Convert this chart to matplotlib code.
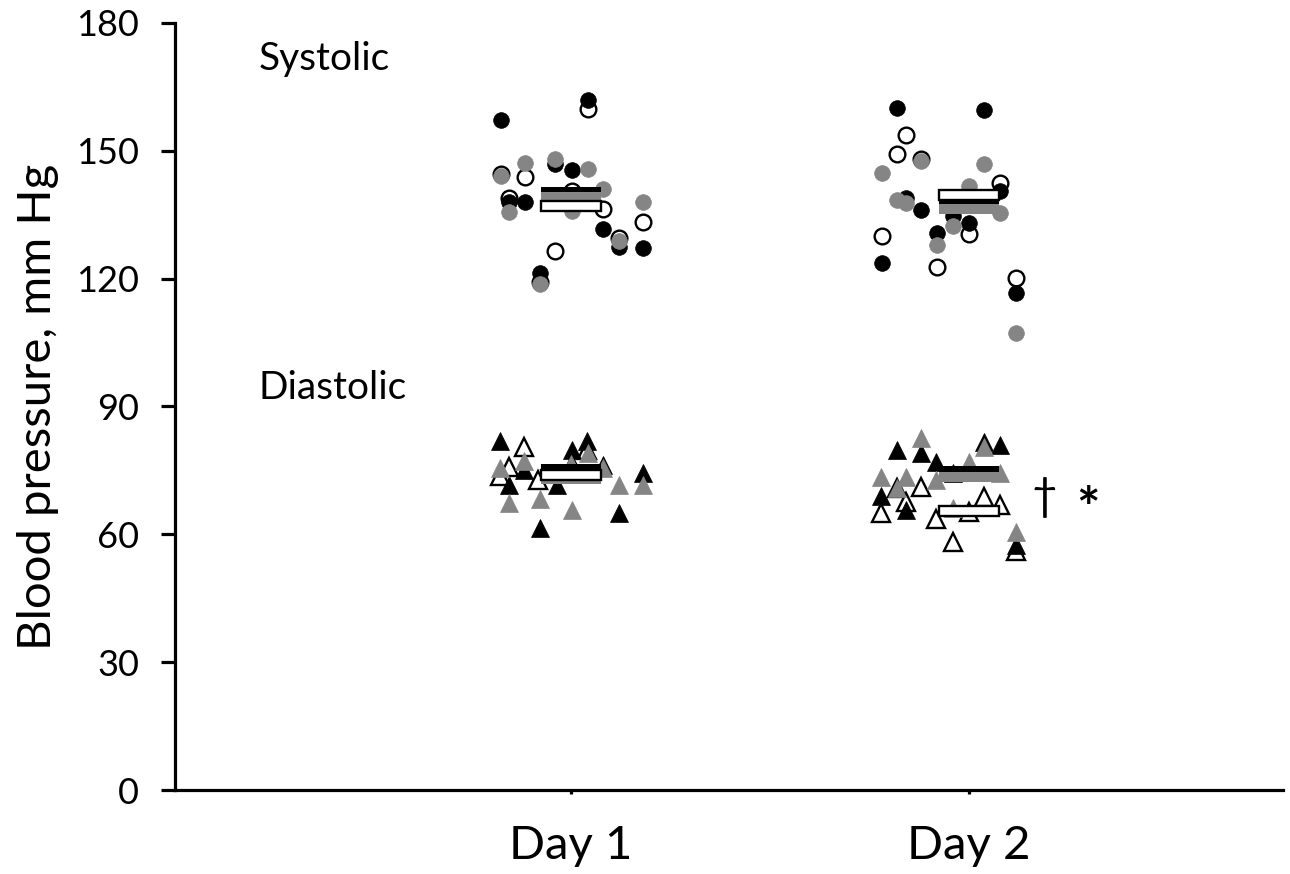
import matplotlib
matplotlib.use("Agg")
import matplotlib.pyplot as plt
import numpy as np

plt.rcParams['font.family'] = ['Lato', 'DejaVu Sans']

# %%
# values: (jitter offset, mm Hg) per subject group
days = ['Day 1', 'Day 2']
gray = '#858585'

# Day 1 systolic
sys1_black_dx = [-0.176, 0.043, -0.040, 0.003, -0.156, -0.116, 0.081, 0.120, 0.180, -0.077]
sys1_black = [157.3, 162.0, 147.0, 145.5, 138.0, 138.0, 131.7, 127.5, 127.3, 121.4]
sys1_gray_dx = [-0.116, -0.176, -0.040, 0.043, 0.081, -0.156, 0.003, 0.180, 0.120, -0.077]
sys1_gray = [147.2, 144.1, 148.1, 145.8, 141.1, 135.7, 135.9, 138.0, 128.9, 118.8]
sys1_open_dx = [0.043, -0.176, -0.116, 0.003, -0.156, 0.081, 0.180, -0.040, -0.077, 0.120]
sys1_open = [159.8, 144.6, 143.9, 140.6, 139.0, 136.4, 133.3, 126.6, 119.3, 129.5]

# Day 2 systolic
sys2_black_dx = [-0.181, 0.038, 0.078, -0.159, -0.121, 0.000, -0.040, -0.081, -0.219, 0.118]
sys2_black = [160.1, 159.6, 140.6, 139.0, 136.2, 133.1, 134.8, 130.8, 123.7, 116.7]
sys2_gray_dx = [-0.121, -0.219, 0.038, 0.000, -0.181, -0.159, 0.078, -0.040, -0.081, 0.118]
sys2_gray = [147.6, 144.9, 147.0, 141.8, 138.5, 137.8, 135.5, 132.4, 128.0, 107.3]
sys2_open_dx = [-0.159, -0.181, -0.121, 0.078, 0.000, -0.219, -0.081, 0.118]
sys2_open = [153.7, 149.3, 148.0, 142.5, 130.5, 130.1, 122.8, 120.2]

# Day 1 diastolic
dia1_black_dx = [-0.179, -0.118, 0.003, 0.040, -0.156, 0.081, 0.180, 0.120, -0.078, -0.035]
dia1_black = [82.0, 75.0, 79.7, 82.0, 71.5, 76.2, 74.3, 65.0, 61.4, 71.5]
dia1_gray_dx = [-0.118, 0.120, 0.180, -0.156, -0.078, 0.003, 0.043, 0.081, -0.179, 0.000]
dia1_gray = [77.3, 71.5, 71.5, 67.3, 68.4, 65.6, 79.0, 75.5, 75.5, 76.5]
dia1_open_dx = [-0.118, 0.040, -0.156, -0.179, -0.083, 0.003]
dia1_open = [80.4, 79.7, 75.7, 73.8, 72.7, 76.2]

# Day 2 diastolic
dia2_black_dx = [-0.121, -0.181, 0.038, 0.078, -0.083, -0.222, -0.159, 0.118, -0.040, 0.000]
dia2_black = [79.2, 79.9, 81.6, 80.9, 76.9, 69.1, 65.6, 57.4, 74.3, 75.0]
dia2_gray_dx = [-0.121, 0.038, 0.000, -0.222, -0.159, -0.083, 0.078, -0.181, -0.040, 0.118]
dia2_gray = [82.7, 80.4, 76.9, 73.4, 73.4, 72.7, 74.5, 70.8, 66.1, 60.5]
dia2_open_dx = [-0.181, -0.121, -0.222, -0.159, 0.038, 0.078, 0.000, -0.083, -0.040, 0.118]
dia2_open = [70.8, 71.2, 64.9, 67.7, 68.7, 66.8, 65.2, 63.7, 58.1, 56.2]

# group means (horizontal bars): [systolic day1, day2, diastolic day1, day2]
mean_black = [140.3, 138.0, 75.3, 74.8]
mean_gray = [139.1, 136.4, 73.0, 73.4]
mean_open = [137.0, 139.6, 74.0, 65.5]
mean_day = [1, 2, 1, 2]

# %%
fig = plt.figure(figsize=(12.9, 8.74), dpi=100)
ax = fig.add_axes([0.1357, 0.0961, 0.859, 0.8776])

groups = [
    (1, 'o', sys1_open_dx, sys1_open, sys1_black_dx, sys1_black, sys1_gray_dx, sys1_gray),
    (2, 'o', sys2_open_dx, sys2_open, sys2_black_dx, sys2_black, sys2_gray_dx, sys2_gray),
    (1, '^', dia1_open_dx, dia1_open, dia1_black_dx, dia1_black, dia1_gray_dx, dia1_gray),
    (2, '^', dia2_open_dx, dia2_open, dia2_black_dx, dia2_black, dia2_gray_dx, dia2_gray),
]
for day, mk, odx, oy, bdx, by, gdx, gy in groups:
    ms = 11.3 if mk == 'o' else 12.5
    ax.plot(day + np.array(odx), oy, mk, ms=ms, mfc='white', mec='black',
            mew=1.7, zorder=2)
    ax.plot(day + np.array(bdx), by, mk, ms=ms, mfc='black', mec='black',
            mew=0.5, zorder=3)
    ax.plot(day + np.array(gdx), gy, mk, ms=ms, mfc=gray, mec=gray,
            mew=0.5, zorder=4)

# mean bars
bar_h = 2.3
bar_w = 0.15
ax.bar(mean_day, bar_h, bottom=np.array(mean_black) - bar_h / 2, width=bar_w,
       color='black', zorder=5)
ax.bar(mean_day, bar_h, bottom=np.array(mean_gray) - bar_h / 2, width=bar_w,
       color=gray, zorder=6)
ax.bar(mean_day, bar_h, bottom=np.array(mean_open) - bar_h / 2, width=bar_w,
       color='white', edgecolor='black', linewidth=1.7, zorder=7)

ax.text(0.214, 171.5, 'Systolic', fontsize=28, va='center', ha='left')
ax.text(0.214, 94.4, 'Diastolic', fontsize=28, va='center', ha='left')
ax.text(2.19, 68.7, '\u2020', fontsize=32, va='center', ha='center')
ax.text(2.30, 65.5, '*', fontsize=40, fontweight='bold', va='center',
        ha='center')

ax.set_xlim(0.005, 2.79)
ax.set_ylim(0, 180)
ax.set_yticks(np.arange(0, 181, 30))
ax.set_xticks([1, 2])
ax.set_xticklabels(days)
ax.set_ylabel('Blood pressure, mm Hg', fontsize=34, labelpad=12)

for s in ['top', 'right']:
    ax.spines[s].set_visible(False)
for s in ['left', 'bottom']:
    ax.spines[s].set_linewidth(2.3)
ax.tick_params(axis='y', direction='out', length=10, width=2.3,
               labelsize=26, pad=16)
ax.tick_params(axis='x', direction='out', length=3, width=2.3,
               labelsize=34, pad=22)

fig.savefig('out.png', dpi=100)
